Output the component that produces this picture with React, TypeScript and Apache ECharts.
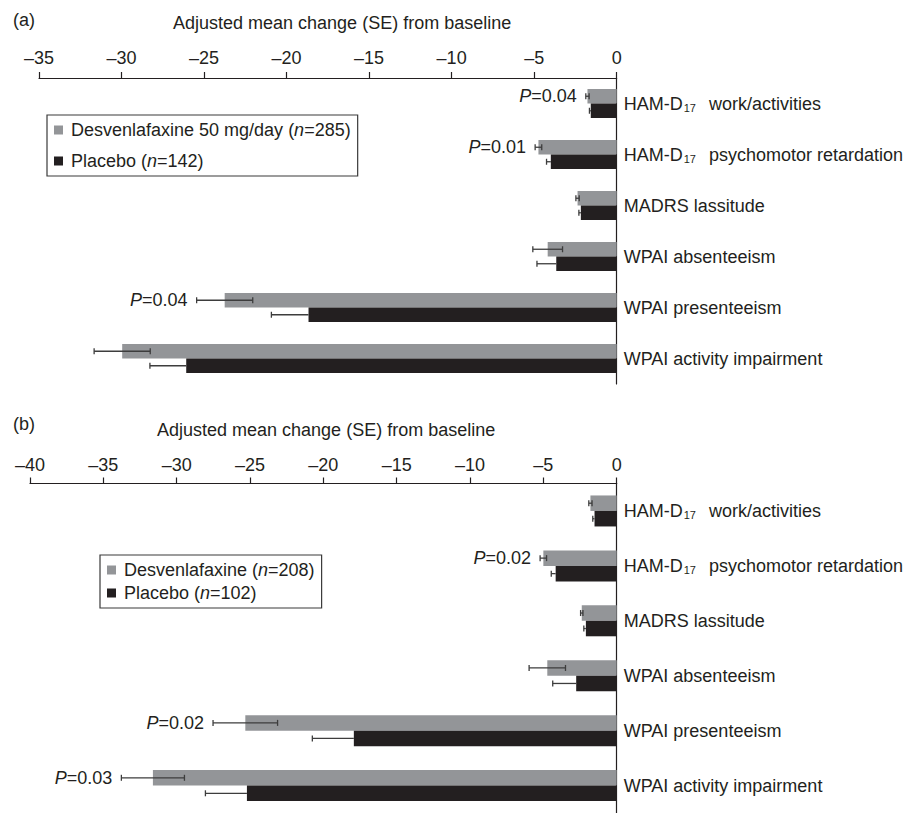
import React, { useEffect, useRef } from "react";
import * as echarts from "echarts";

const FONT = "'Liberation Sans', Arial, Helvetica, sans-serif";
const INK = "#231f20";
const GRAY = "#939598";

const categories = [
  "HAM-D17 work/activities",
  "HAM-D17 psychomotor retardation",
  "MADRS lassitude",
  "WPAI absenteeism",
  "WPAI presenteeism",
  "WPAI activity impairment",
];

const xTicksA = { min: -35, max: 0, interval: 5 };
const xTicksB = { min: -40, max: 0, interval: 5 };

// Panel (a)
const legendA = ["Desvenlafaxine 50 mg/day (n=285)", "Placebo (n=142)"];
const desvA = [-1.77, -4.74, -2.37, -4.18, -23.75, -29.96];
const desvSeA = [0.1, 0.2, 0.1, 0.9, 1.7, 1.7];
const placA = [-1.57, -3.99, -2.17, -3.66, -18.67, -26.08];
const placSeA = [0.08, 0.26, 0.12, 1.17, 2.25, 2.2];
const pA = ["P=0.04", "P=0.01", "", "", "P=0.04", ""];

// Panel (b)
const legendB = ["Desvenlafaxine (n=208)", "Placebo (n=102)"];
const desvB = [-1.79, -5.0, -2.38, -4.73, -25.32, -31.62];
const desvSeB = [0.11, 0.22, 0.08, 1.24, 2.2, 2.15];
const placB = [-1.51, -4.16, -2.1, -2.76, -17.92, -25.21];
const placSeB = [0.12, 0.3, 0.14, 1.6, 2.83, 2.83];
const pB = ["", "P=0.02", "", "", "P=0.02", "P=0.03"];

const axisTitle = "Adjusted mean change (SE) from baseline";

function tickFmt(v: number) {
  return v < 0 ? "\u2013" + Math.abs(v) : String(v);
}

function catFmt(v: string) {
  return v.replace("HAM-D17 ", "HAM-D{s|17}");
}

function legendFmt(name: string) {
  return name.replace("(n=", "({i|n}=");
}

function errSeries(
  name: string,
  xi: number,
  values: number[],
  ses: number[],
  ps: string[],
  sign: number,
  barW: number,
  leftOnly: boolean
) {
  return {
    type: "custom",
    name: name + " SE",
    xAxisIndex: xi,
    yAxisIndex: xi,
    z: 5,
    silent: true,
    encode: { x: 1, y: 0 },
    data: values.map((v, i) => [i, v, ses[i]]),
    renderItem: (params: any, api: any) => {
      const i = api.value(0);
      const v = api.value(1);
      const se = api.value(2);
      const c = api.coord([v, i]);
      const y = c[1] + (sign * barW) / 2;
      const l = api.coord([v - se, i])[0];
      const r = leftOnly ? c[0] : api.coord([v + se, i])[0];
      const ls = { stroke: "#3d3d3d", lineWidth: 1.3 };
      const children: any[] = [
        { type: "line", shape: { x1: l, y1: y, x2: r, y2: y }, style: ls },
        { type: "line", shape: { x1: l, y1: y - 3, x2: l, y2: y + 3 }, style: ls },
      ];
      if (!leftOnly) {
        children.push({ type: "line", shape: { x1: r, y1: y - 3, x2: r, y2: y + 3 }, style: ls });
      }
      const p = ps[params.dataIndex];
      if (p) {
        children.push({
          type: "text",
          style: {
            text: p.replace("P", "{i|P}"),
            x: l - 9,
            y: y,
            align: "right",
            verticalAlign: "middle",
            fontSize: 18,
            fontFamily: FONT,
            fill: INK,
            rich: {
              i: { fontStyle: "italic", fontSize: 18, fontFamily: FONT, fill: INK },
            },
          },
        });
      }
      return { type: "group", children };
    },
  };
}

function xAxisFor(gi: number, t: { min: number; max: number; interval: number }, margin: number) {
  return {
    gridIndex: gi,
    type: "value",
    position: "top",
    min: t.min,
    max: t.max,
    interval: t.interval,
    axisLine: { show: true, onZero: false, lineStyle: { color: INK, width: 1.2 } },
    axisTick: { show: true, length: 6, lineStyle: { color: INK, width: 1.2 } },
    splitLine: { show: false },
    axisLabel: { margin, fontSize: 18, fontFamily: FONT, color: INK, formatter: tickFmt },
  };
}

function yAxisFor(gi: number) {
  return {
    gridIndex: gi,
    type: "category",
    data: categories,
    inverse: true,
    position: "right",
    axisLine: { show: true, onZero: false, lineStyle: { color: INK, width: 1.2 } },
    axisTick: { show: false },
    axisLabel: {
      margin: 7,
      fontSize: 18,
      fontFamily: FONT,
      color: INK,
      formatter: catFmt,
      rich: {
        s: { fontSize: 11, fontFamily: FONT, color: INK, padding: [9, 13, 0, 1] },
      },
    },
  };
}

function legendFor(data: string[], left: number, top: number, gap: number) {
  return {
    orient: "vertical",
    left,
    top,
    data,
    icon: "rect",
    itemWidth: 9,
    itemHeight: 9,
    itemGap: gap,
    padding: [6, 7, 6, 7],
    borderColor: "#3a3a3a",
    borderWidth: 1.2,
    selectedMode: false,
    formatter: legendFmt,
    textStyle: {
      fontSize: 18,
      fontFamily: FONT,
      color: INK,
      lineHeight: 18,
      padding: [0, 0, 0, 3],
      rich: {
        i: { fontStyle: "italic", fontSize: 18, fontFamily: FONT, color: INK, lineHeight: 18 },
      },
    },
  };
}

export default function App() {
  const ref = useRef<HTMLDivElement>(null);
  useEffect(() => {
    document.body.style.margin = "0";
    if (!ref.current) return;
    const chart = echarts.init(ref.current, undefined, { renderer: "svg" });
    const bwA = 14.5;
    const bwB = 15.5;
    chart.setOption({
      animation: false,
      backgroundColor: "#ffffff",
      grid: [
        { left: 39, right: 286, top: 78, height: 306 },
        { left: 30, right: 287, top: 483.5, height: 333 },
      ],
      xAxis: [xAxisFor(0, xTicksA, 11), xAxisFor(1, xTicksB, 10)],
      yAxis: [yAxisFor(0), yAxisFor(1)],
      legend: [legendFor(legendA, 47, 115, 13), legendFor(legendB, 100, 555, 5)],
      graphic: [
        { type: "text", x: 13, y: 20, style: { text: "(a)", fontSize: 18, fontFamily: FONT, fill: INK, verticalAlign: "middle" } },
        { type: "text", x: 173, y: 23, style: { text: axisTitle, fontSize: 18, fontFamily: FONT, fill: INK, verticalAlign: "middle" } },
        { type: "text", x: 13, y: 424, style: { text: "(b)", fontSize: 18, fontFamily: FONT, fill: INK, verticalAlign: "middle" } },
        { type: "text", x: 157, y: 430, style: { text: axisTitle, fontSize: 18, fontFamily: FONT, fill: INK, verticalAlign: "middle" } },
      ],
      series: [
        { type: "bar", name: legendA[0], xAxisIndex: 0, yAxisIndex: 0, data: desvA, barWidth: bwA, barGap: "0%", itemStyle: { color: GRAY } },
        { type: "bar", name: legendA[1], xAxisIndex: 0, yAxisIndex: 0, data: placA, barWidth: bwA, barGap: "0%", itemStyle: { color: INK } },
        errSeries(legendA[0], 0, desvA, desvSeA, pA, -1, bwA, false),
        errSeries(legendA[1], 0, placA, placSeA, ["", "", "", "", "", ""], 1, bwA, true),
        { type: "bar", name: legendB[0], xAxisIndex: 1, yAxisIndex: 1, data: desvB, barWidth: bwB, barGap: "0%", itemStyle: { color: GRAY } },
        { type: "bar", name: legendB[1], xAxisIndex: 1, yAxisIndex: 1, data: placB, barWidth: bwB, barGap: "0%", itemStyle: { color: INK } },
        errSeries(legendB[0], 1, desvB, desvSeB, pB, -1, bwB, false),
        errSeries(legendB[1], 1, placB, placSeB, ["", "", "", "", "", ""], 1, bwB, true),
      ],
    });
    return () => chart.dispose();
  }, []);
  return <div ref={ref} style={{ width: 906, height: 813 }} />;
}
